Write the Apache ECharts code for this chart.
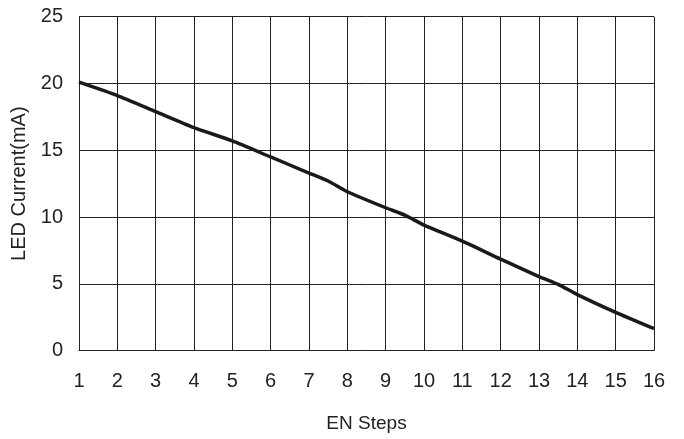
<!DOCTYPE html>
<html><head><meta charset="utf-8">
<script src="https://cdn.jsdelivr.net/npm/echarts@6/dist/echarts.min.js"></script>
<style>html,body{margin:0;padding:0;background:#fff}#c{width:684px;height:439px}</style>
</head><body><div id="c"></div>
<script>
const enSteps = [1, 2, 3, 4, 5, 6, 7, 7.5, 8, 9, 9.5, 10, 11, 12, 13, 13.5, 14, 15, 16];
const ledCurrent = [20.1, 19.1, 17.9, 16.7, 15.7, 14.5, 13.3, 12.7, 11.9, 10.7, 10.15, 9.4, 8.2, 6.85, 5.55, 4.97, 4.2, 2.87, 1.65];
const xName = 'EN Steps';
const yName = 'LED Current(mA)';

const chart = echarts.init(document.getElementById('c'));
const font = 'Liberation Sans, Arial, Helvetica, sans-serif';
chart.setOption({
  animation: false,
  grid: {left: 79, right: 30, top: 16.7, bottom: 88.3, containLabel: false},
  xAxis: {
    type: 'value', min: 1, max: 16, interval: 1,
    name: xName, nameLocation: 'middle', nameGap: 64,
    nameTextStyle: {fontFamily: font, fontSize: 19, color: '#222'},
    axisLine: {show: true, lineStyle: {color: '#222', width: 1}},
    axisTick: {show: false},
    axisLabel: {fontFamily: font, fontSize: 20, color: '#222', margin: 21},
    splitLine: {show: true, lineStyle: {color: '#222', width: 1}}
  },
  yAxis: {
    type: 'value', min: 0, max: 25, interval: 5,
    name: yName, nameLocation: 'middle', nameGap: 48,
    nameTextStyle: {fontFamily: font, fontSize: 20, color: '#222'},
    axisLine: {show: true, lineStyle: {color: '#222', width: 1}},
    axisTick: {show: false},
    axisLabel: {fontFamily: font, fontSize: 20, color: '#222', margin: 16},
    splitLine: {show: true, lineStyle: {color: '#222', width: 1}}
  },
  series: [{
    type: 'line',
    data: enSteps.map((x, i) => [x, ledCurrent[i]]),
    showSymbol: false,
    smooth: 0.2,
    lineStyle: {color: '#1a1a1a', width: 3.5}
  }]
});
</script></body></html>
